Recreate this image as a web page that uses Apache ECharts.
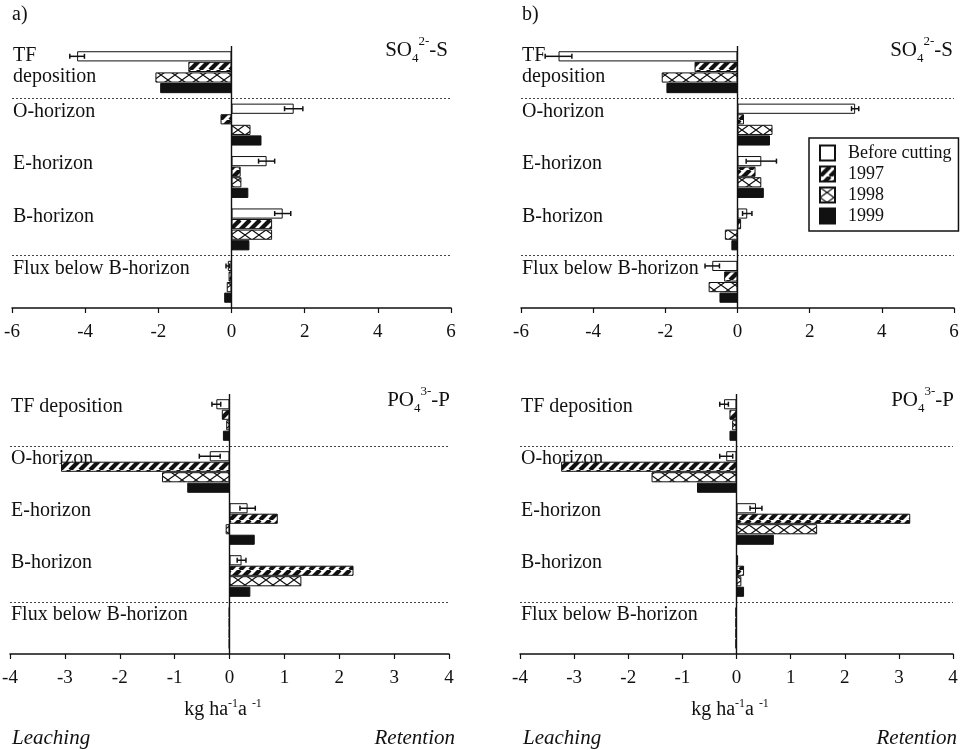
<!DOCTYPE html>
<html><head><meta charset="utf-8">
<script src="https://cdn.jsdelivr.net/npm/echarts@6/dist/echarts.min.js"></script>
<style>html,body{margin:0;background:#fff}#c{width:961px;height:750px}</style>
</head><body><div id="c"></div>
<script>
// ---------- data ----------
const categoriesTop = ['TF\ndeposition', 'O-horizon', 'E-horizon', 'B-horizon', 'Flux below B-horizon'];
const categoriesBottom = ['TF deposition', 'O-horizon', 'E-horizon', 'B-horizon', 'Flux below B-horizon'];
const seriesNames = ['Before cutting', '1997', '1998', '1999'];
const ticksSO4 = [-6, -4, -2, 0, 2, 4, 6];
const ticksPO4 = [-4, -3, -2, -1, 0, 1, 2, 3, 4];

// a) SO4-S
const aSO4_before = [-4.22, 1.70, 0.96, 1.40, -0.10];
const aSO4_beforeErr = [0.20, 0.25, 0.22, 0.22, 0.05];
const aSO4_1997 = [-1.18, -0.30, 0.25, 1.11, -0.08];
const aSO4_1998 = [-2.08, 0.52, 0.27, 1.11, -0.13];
const aSO4_1999 = [-1.95, 0.82, 0.46, 0.49, -0.20];
// b) SO4-S
const bSO4_before = [-4.96, 3.26, 0.66, 0.27, -0.70];
const bSO4_beforeErr = [0.37, 0.10, 0.42, 0.13, 0.20];
const bSO4_1997 = [-1.19, 0.18, 0.50, 0.10, -0.37];
const bSO4_1998 = [-2.10, 0.97, 0.66, -0.35, -0.80];
const bSO4_1999 = [-1.97, 0.90, 0.73, -0.17, -0.50];
// a) PO4-P
const aPO4_before = [-0.24, -0.36, 0.33, 0.22, -0.01];
const aPO4_beforeErr = [0.08, 0.19, 0.14, 0.08, 0];
const aPO4_1997 = [-0.14, -3.07, 0.88, 2.26, -0.01];
const aPO4_1998 = [-0.06, -1.23, -0.07, 1.31, -0.01];
const aPO4_1999 = [-0.12, -0.77, 0.46, 0.38, -0.01];
// b) PO4-P
const bPO4_before = [-0.23, -0.19, 0.36, 0.03, -0.02];
const bPO4_beforeErr = [0.08, 0.12, 0.11, 0, 0];
const bPO4_1997 = [-0.13, -3.24, 3.21, 0.14, -0.02];
const bPO4_1998 = [-0.08, -1.57, 1.49, 0.09, -0.02];
const bPO4_1999 = [-0.13, -0.73, 0.69, 0.14, -0.02];

// ---------- styling helpers ----------
const FONT = '"Liberation Serif", "Times New Roman", serif';
const INK = '#111';
function hatchPattern() {
  const s = 10, c = document.createElement('canvas');
  c.width = s; c.height = s;
  const g = c.getContext('2d');
  g.fillStyle = '#fff'; g.fillRect(0, 0, s, s);
  g.strokeStyle = INK; g.lineWidth = 4.2;
  for (const x0 of [-s, 0, s]) { g.beginPath(); g.moveTo(x0, s); g.lineTo(x0 + s, 0); g.stroke(); }
  return c;
}
function crossPattern() {
  const w = 14, h = 10, c = document.createElement('canvas');
  c.width = w; c.height = h;
  const g = c.getContext('2d');
  g.fillStyle = '#fff'; g.fillRect(0, 0, w, h);
  g.strokeStyle = INK; g.lineWidth = 1.2;
  g.beginPath(); g.moveTo(0, 0); g.lineTo(w, h); g.moveTo(w, 0); g.lineTo(0, h); g.stroke();
  return c;
}
const styles = [
  { color: '#fff', borderColor: INK, borderWidth: 1 },
  { color: { image: hatchPattern(), repeat: 'repeat' }, borderColor: INK, borderWidth: 1 },
  { color: { image: crossPattern(), repeat: 'repeat' }, borderColor: INK, borderWidth: 1 },
  { color: INK, borderColor: INK, borderWidth: 1 }
];

const BAR_CAT_GAP = 0.2, BAR_GAP = 0.04;

const panels = [
  { cats: categoriesTop, min: -6, max: 6, interval: 2, vals: [aSO4_before, aSO4_1997, aSO4_1998, aSO4_1999], err: aSO4_beforeErr },
  { cats: categoriesTop, min: -6, max: 6, interval: 2, vals: [bSO4_before, bSO4_1997, bSO4_1998, bSO4_1999], err: bSO4_beforeErr },
  { cats: categoriesBottom, min: -4, max: 4, interval: 1, vals: [aPO4_before, aPO4_1997, aPO4_1998, aPO4_1999], err: aPO4_beforeErr, unit: true },
  { cats: categoriesBottom, min: -4, max: 4, interval: 1, vals: [bPO4_before, bPO4_1997, bPO4_1998, bPO4_1999], err: bPO4_beforeErr, unit: true }
];
const grids = [
  { left: 12, top: 46, width: 439, height: 262 },
  { left: 521, top: 46, width: 433, height: 262 },
  { left: 10, top: 394, width: 439, height: 260 },
  { left: 520, top: 394, width: 433, height: 260 }
].map(g => Object.assign({ outerBoundsMode: 'none', containLabel: false }, g));

function errRender(params, api) {
  const v = api.value(0), cat = api.value(1), e = api.value(2);
  if (!e) return;
  const c = api.coord([v, cat]);
  const band = api.size([0, 1])[1];
  const w = band * (1 - BAR_CAT_GAP) / (4 + 3 * BAR_GAP);
  const y = c[1] - band * (1 - BAR_CAT_GAP) / 2 + w / 2;
  const x1 = api.coord([v - e, cat])[0], x2 = api.coord([v + e, cat])[0];
  const st = { stroke: INK, lineWidth: 1.5 };
  return { type: 'group', children: [
    { type: 'line', shape: { x1: x1, y1: y, x2: x2, y2: y }, style: st },
    { type: 'line', shape: { x1: x1, y1: y - 2.5, x2: x1, y2: y + 2.5 }, style: st },
    { type: 'line', shape: { x1: x2, y1: y - 2.5, x2: x2, y2: y + 2.5 }, style: st }
  ] };
}

const xAxis = [], yAxis = [], series = [];
panels.forEach((p, i) => {
  xAxis.push({
    gridIndex: i, type: 'value', min: p.min, max: p.max, interval: p.interval,
    axisLine: { show: true, onZero: false, lineStyle: { color: INK, width: 1.5 } },
    axisTick: { show: true, length: 5, lineStyle: { color: INK, width: 1.2 } },
    axisLabel: { margin: 15, fontFamily: FONT, fontSize: 19, color: INK, showMinLabel: true, showMaxLabel: true },
    splitLine: { show: false },
    name: p.unit ? '{n|kg ha}{s|-1}{n|a }{s|-1}' : '',
    nameLocation: 'middle', nameGap: 44,
    nameTextStyle: {
      padding: [0, 13, 0, 0],
      rich: {
        n: { fontFamily: FONT, fontSize: 20, color: INK, lineHeight: 24 },
        s: { fontFamily: FONT, fontSize: 12, color: INK, verticalAlign: 'top', lineHeight: 12 }
      }
    }
  });
  yAxis.push({
    gridIndex: i, type: 'category', data: p.cats, inverse: true,
    axisLine: { show: false }, axisTick: { show: false }, axisLabel: { show: false }, splitLine: { show: false }
  });
});
panels.forEach((p, i) => {
  yAxis.push({ gridIndex: i, type: 'value', min: 0, max: 5, inverse: true, show: false });
});
panels.forEach((p, i) => {
  p.vals.forEach((arr, k) => {
    series.push({
      name: seriesNames[k], type: 'bar', xAxisIndex: i, yAxisIndex: i,
      data: arr, itemStyle: styles[k], z: 2,
      barCategoryGap: (BAR_CAT_GAP * 100) + '%', barGap: (BAR_GAP * 100) + '%',
      emphasis: { disabled: true }
    });
  });
  series.push({
    type: 'custom', xAxisIndex: i, yAxisIndex: i, z: 4, silent: true,
    renderItem: errRender, encode: { x: 0, y: 1 },
    data: p.vals[0].map((v, j) => [v, j, p.err[j]])
  });
  series.push({
    type: 'line', xAxisIndex: i, yAxisIndex: 4 + i, data: [], z: 3, silent: true,
    markLine: {
      silent: true, symbol: 'none', label: { show: false }, animation: false,
      data: [
        { yAxis: 1, lineStyle: { type: [2, 2], color: '#444', width: 1 } },
        { yAxis: 4, lineStyle: { type: [2, 2], color: '#444', width: 1 } },
        { xAxis: 0, lineStyle: { type: 'solid', color: INK, width: 1.4 } }
      ]
    }
  });
});

const chart = echarts.init(document.getElementById('c'), null, { renderer: 'canvas' });
chart.setOption({
  animation: false,
  backgroundColor: '#fff',
  grid: grids, xAxis: xAxis, yAxis: yAxis, series: series,
  legend: {
    data: seriesNames, orient: 'vertical', left: 809, top: 138,
    padding: [6, 7, 6, 10], itemGap: 3, itemWidth: 15, itemHeight: 15, icon: 'rect',
    borderColor: INK, borderWidth: 1.5, borderRadius: 0, selectedMode: false,
    textStyle: { fontFamily: FONT, fontSize: 18, color: INK, padding: [0, 0, 0, 8] }
  }
});

// text annotations placed from the axes
const graphic = [];
const txt = (x, y, text, extra) => graphic.push({
  type: 'text', x: x, y: y, silent: true,
  style: Object.assign({ text: text, font: '20px ' + FONT, fill: INK, align: 'left', verticalAlign: 'middle' }, extra || {})
});
panels.forEach((p, i) => {
  const x0 = chart.convertToPixel({ xAxisIndex: i }, p.min) + 1;
  p.cats.forEach((c, j) => {
    const yc = chart.convertToPixel({ yAxisIndex: i }, j);
    if (c.indexOf('\n') >= 0) txt(x0, yc - 6, c, { lineHeight: 21 });
    else txt(x0, yc - 13, c);
  });
});
txt(12, 15, 'a)');
txt(522, 15, 'b)');
const chemRich = {
  n: { font: '21px ' + FONT, fill: INK, lineHeight: 30 },
  b: { font: '13px ' + FONT, fill: INK, verticalAlign: 'bottom', lineHeight: 13 },
  p: { font: '13px ' + FONT, fill: INK, verticalAlign: 'top', lineHeight: 13 }
};
txt(448, 50, '{n|SO}{b|4}{p|2-}{n|-S}', { align: 'right', rich: chemRich });
txt(953, 50, '{n|SO}{b|4}{p|2-}{n|-S}', { align: 'right', rich: chemRich });
txt(450, 400, '{n|PO}{b|4}{p|3-}{n|-P}', { align: 'right', rich: chemRich });
txt(954, 400, '{n|PO}{b|4}{p|3-}{n|-P}', { align: 'right', rich: chemRich });
txt(12, 738, 'Leaching', { font: 'italic 21px ' + FONT });
txt(455, 738, 'Retention', { font: 'italic 21px ' + FONT, align: 'right' });
txt(523, 738, 'Leaching', { font: 'italic 21px ' + FONT });
txt(957, 738, 'Retention', { font: 'italic 21px ' + FONT, align: 'right' });
chart.setOption({ graphic: graphic });
</script></body></html>
